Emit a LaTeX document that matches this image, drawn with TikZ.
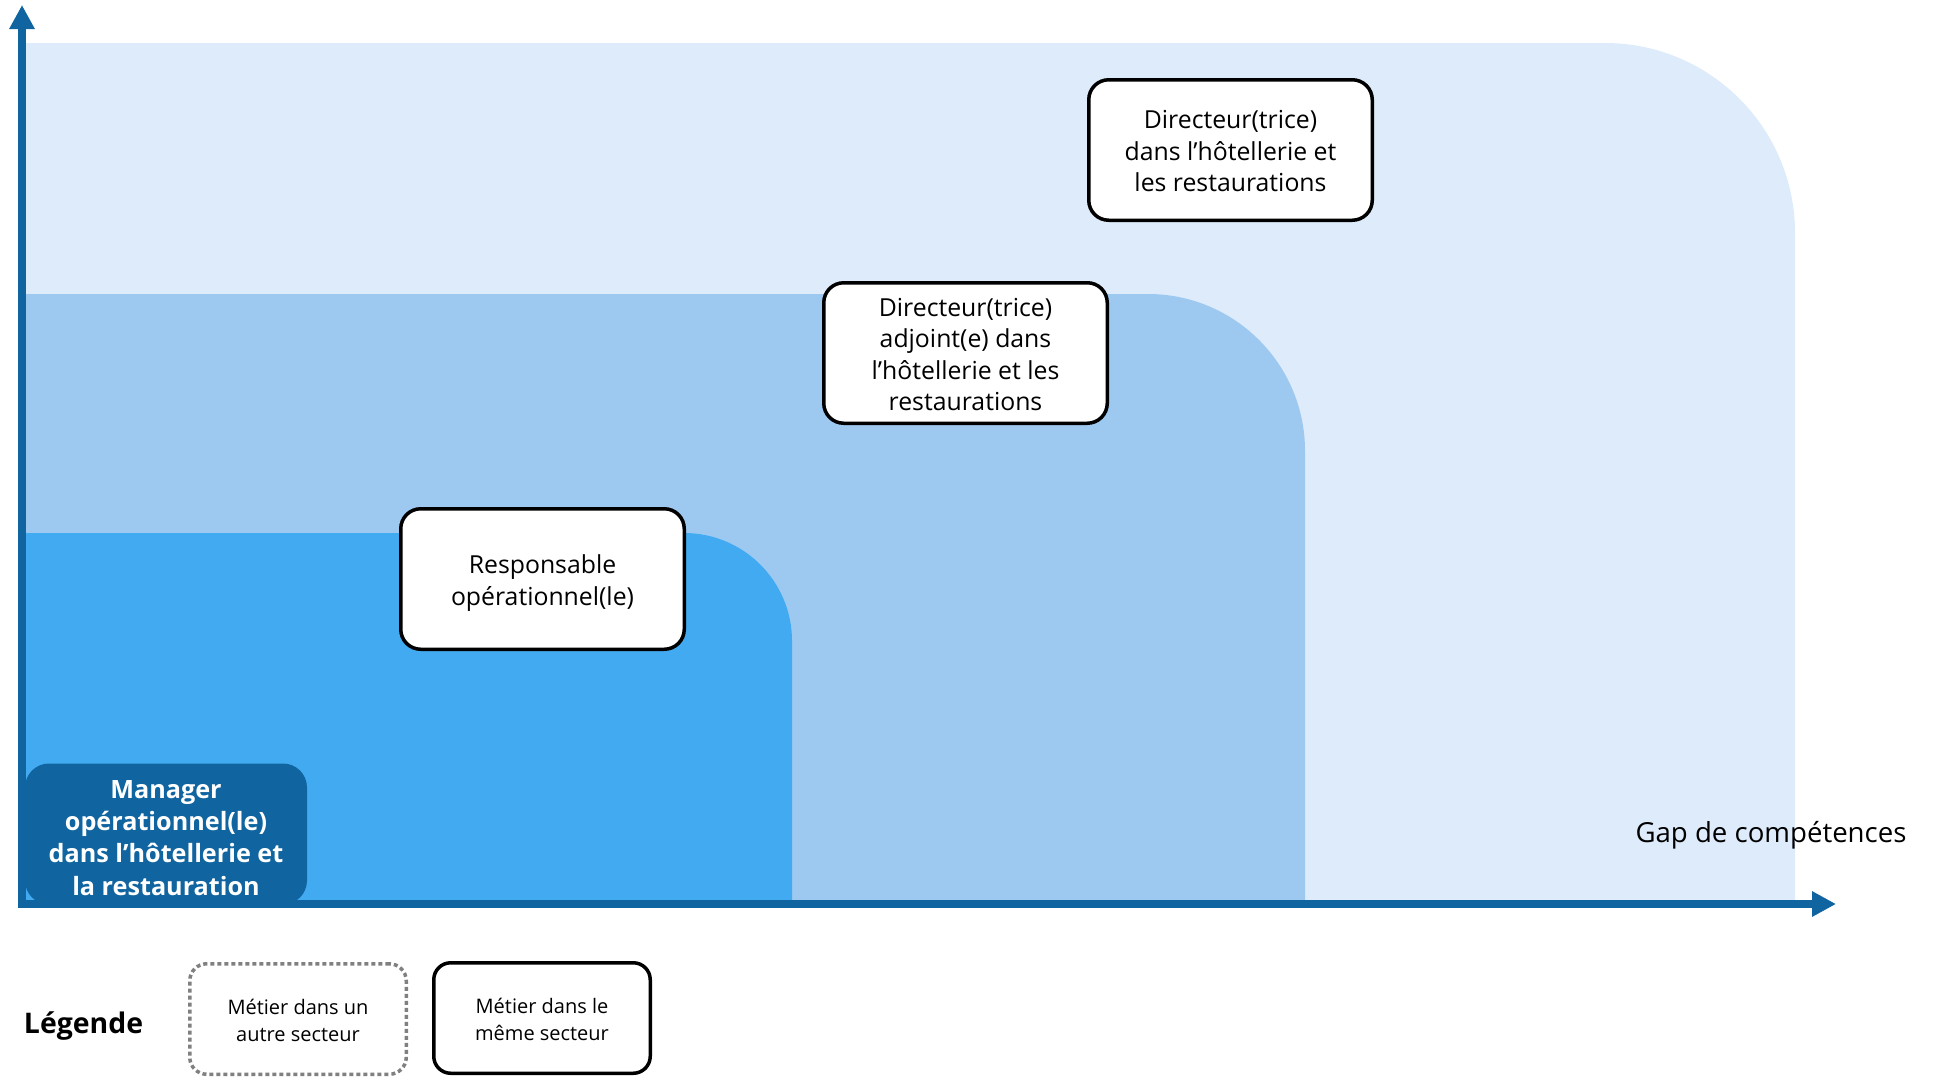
\documentclass[tikz,border=0pt]{standalone}
\usepackage{fontspec}
\setmainfont{Open Sans}
\usetikzlibrary{arrows.meta}
\definecolor{axisblue}{RGB}{16,100,160}
\definecolor{lvlone}{RGB}{221,235,250}
\definecolor{lvltwo}{RGB}{157,201,241}
\definecolor{lvlthree}{RGB}{66,170,240}
\definecolor{dotgray}{RGB}{128,128,128}
\begin{document}
\begin{tikzpicture}[x=0.5pt,y=-0.5pt,
  axisline/.style={draw=axisblue, line width=4pt, -{Triangle[length=12pt,width=12pt]}},
  jobbox/.style={draw=black, line width=1.75pt, fill=white, rounded corners=10pt,
    minimum width=141.75pt, minimum height=70.25pt, inner sep=0pt, align=center,
    font=\fontsize{12.4}{15.75}\selectfont},
  mgrbox/.style={fill=axisblue, rounded corners=12pt, minimum width=141pt,
    minimum height=70.5pt, inner sep=0pt, align=center, text=white,
    font=\bfseries\fontsize{12.6}{16.1}\selectfont},
  legbox/.style={line width=1.75pt, rounded corners=8.5pt, minimum width=108.25pt,
    minimum height=55.25pt, inner sep=0pt, align=center,
    font=\fontsize{10}{13.5}\selectfont}
]
\useasboundingbox (0,0) rectangle (1936,1077);
% levels
\fill[lvlone] (26,902) -- (26,43) -- (1605,43) arc[start angle=-90,end angle=0,radius=190] -- (1795,902) -- cycle;
\fill[lvltwo] (26,902) -- (26,294) -- (1148,294) arc[start angle=-90,end angle=0,radius=157] -- (1305,902) -- cycle;
\fill[lvlthree] (26,902) -- (26,533) -- (684,533) arc[start angle=-90,end angle=0,radius=108] -- (792,902) -- cycle;
% axes
\coordinate (yfoot) at (22,908);
\coordinate (ytip) at (22,5);
\coordinate (xfoot) at (18,904);
\coordinate (xtip) at (1836,904);
\draw[axisline] (yfoot) -- (ytip);
\draw[axisline] (xfoot) -- (xtip);
% jobs
\node[mgrbox] (mgr) at (166,834) {\rule{0pt}{13pt}Manager\\opérationnel(le)\\dans l’hôtellerie et\\la restauration};
\node[jobbox] (resp) at (542.5,579) {\rule{0pt}{13.7pt}Responsable\\opérationnel(le)};
\node[jobbox] (adj) at (965.5,353) {\rule{0pt}{10.6pt}Directeur(trice)\\adjoint(e) dans\\l’hôtellerie et les\\restaurations};
\node[jobbox] (dir) at (1230.5,150) {\rule{0pt}{10.6pt}Directeur(trice)\\dans l’hôtellerie et\\les restaurations};
% labels
\node[font=\fontsize{13.8}{16}\selectfont] (gap) at (1771,835.5) {Gap de compétences};
\node[font=\bfseries\fontsize{14.2}{17}\selectfont] (leg) at (83.5,1026) {Légende};
\node[legbox, draw=dotgray, dash pattern=on 2pt off 1.5pt] (other) at (298,1019) {\rule{0pt}{9pt}Métier dans un\\autre secteur};
\node[legbox, draw=black] (same) at (542,1018) {\rule{0pt}{9pt}Métier dans le\\même secteur};
\end{tikzpicture}
\end{document}
